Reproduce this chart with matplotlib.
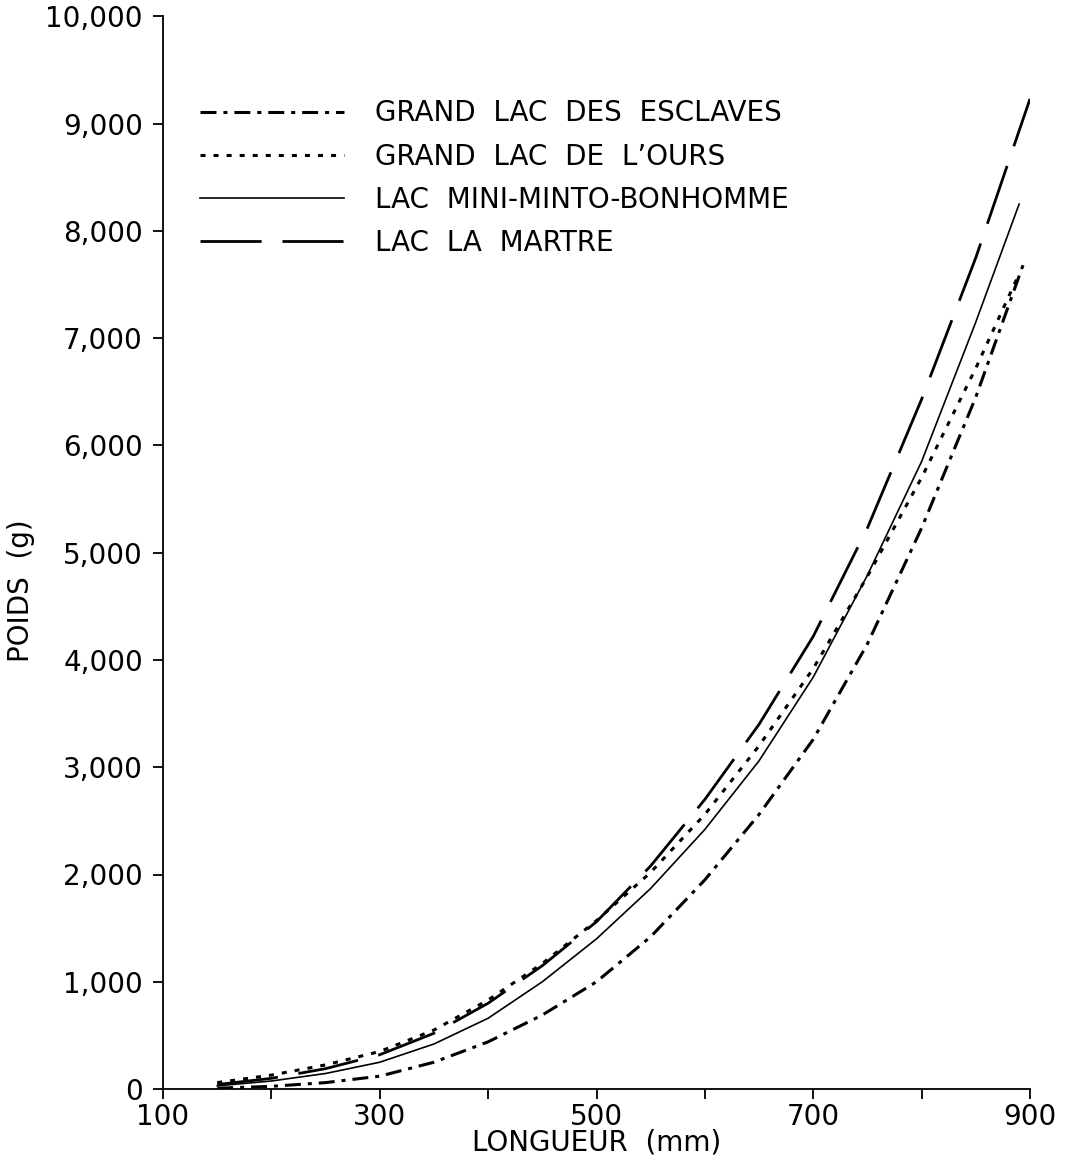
import matplotlib
matplotlib.use("Agg")
import matplotlib.pyplot as plt

# longueur (mm) et poids (g)
len_esclaves = [150, 200, 250, 300, 350, 400, 450, 500, 550, 600, 650, 700, 750, 800, 850, 895]
w_esclaves = [8, 25, 60, 120, 250, 440, 690, 1000, 1420, 1950, 2560, 3260, 4150, 5230, 6450, 7720]

len_ours = [150, 200, 250, 300, 350, 400, 450, 500, 550, 600, 650, 700, 750, 800, 850, 890]
w_ours = [60, 130, 225, 350, 550, 830, 1170, 1570, 2020, 2560, 3200, 3920, 4780, 5700, 6720, 7600]

len_minto = [150, 200, 250, 300, 350, 400, 450, 500, 550, 600, 650, 700, 750, 800, 850, 890]
w_minto = [30, 75, 145, 250, 420, 660, 1000, 1400, 1870, 2420, 3060, 3840, 4790, 5850, 7150, 8250]

len_martre = [150, 200, 250, 300, 350, 400, 450, 500, 550, 600, 650, 700, 750, 800, 850, 900]
w_martre = [42, 100, 190, 320, 520, 800, 1150, 1560, 2080, 2700, 3400, 4220, 5230, 6430, 7750, 9230]

labels = ["GRAND  LAC  DES  ESCLAVES", "GRAND  LAC  DE  L\u2019OURS",
          "LAC  MINI-MINTO-BONHOMME", "LAC  LA  MARTRE"]

x_ticks = [100, 200, 300, 400, 500, 600, 700, 800, 900]
x_ticklabels = ["100", "", "300", "", "500", "", "700", "", "900"]
y_ticks = [0, 1000, 2000, 3000, 4000, 5000, 6000, 7000, 8000, 9000, 10000]
y_ticklabels = ["0", "1,000", "2,000", "3,000", "4,000", "5,000", "6,000",
                "7,000", "8,000", "9,000", "10,000"]

plt.rcParams["font.family"] = ["DejaVu Sans"]
plt.rcParams["lines.scale_dashes"] = False

fig = plt.figure(figsize=(10.69, 11.66), dpi=100)
ax = fig.add_axes([0.1525, 0.066, 0.8110, 0.9200])

ax.plot(len_esclaves, w_esclaves, color="black", lw=2.2,
        linestyle=(0, (11.5, 5, 2.9, 5)), label=labels[0])
ax.plot(len_ours, w_ours, color="black", lw=2.2,
        linestyle=(0, (3.6, 5.8)), label=labels[1])
ax.plot(len_minto, w_minto, color="black", lw=1.2,
        linestyle="-", label=labels[2])
ax.plot(len_martre, w_martre, color="black", lw=2.0,
        linestyle=(0, (44, 15)), label=labels[3])

ax.set_xlim(100, 900)
ax.set_ylim(0, 10000)
ax.set_xticks(x_ticks)
ax.set_xticklabels(x_ticklabels)
ax.set_yticks(y_ticks)
ax.set_yticklabels(y_ticklabels)
ax.tick_params(direction="out", length=7, width=1.3, labelsize=20, pad=3)
ax.tick_params(axis="y", pad=7.5)

for side in ["top", "right"]:
    ax.spines[side].set_visible(False)
for side in ["left", "bottom"]:
    ax.spines[side].set_linewidth(1.3)

ax.set_xlabel("LONGUEUR  (mm)", fontsize=20, labelpad=-2)
ax.set_ylabel("POIDS  (g)", fontsize=20)
ax.yaxis.set_label_coords(-0.148, 0.465)

ax.legend(loc="upper left", bbox_to_anchor=(0.0427, 0.9226), frameon=False,
          fontsize=20, handlelength=5.2, handletextpad=1.1, labelspacing=0.55,
          borderpad=0, borderaxespad=0)

fig.savefig("out.png", dpi=100)
